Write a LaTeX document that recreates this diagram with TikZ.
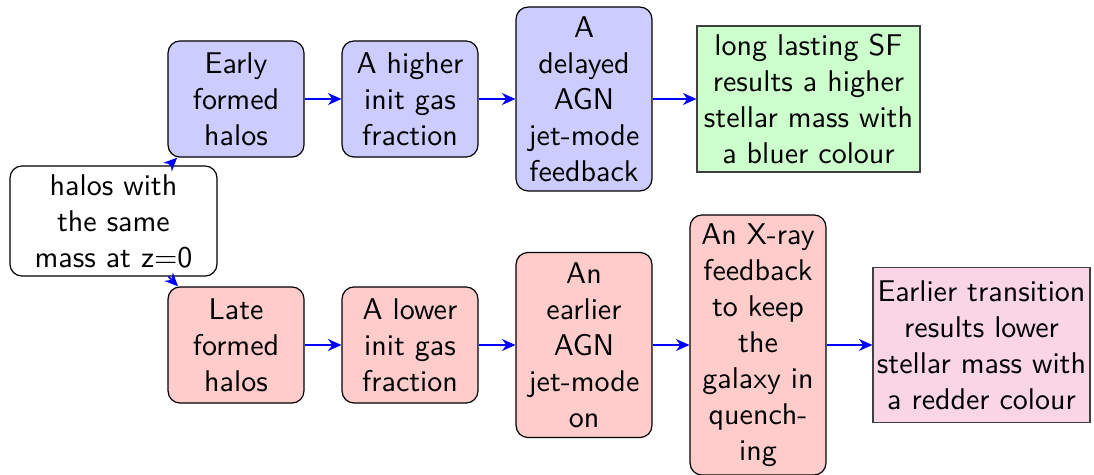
\documentclass[tikz,border=0pt]{standalone}
\usetikzlibrary{arrows.meta}
\definecolor{pinkfill}{RGB}{249,213,229}
\begin{document}
\begin{tikzpicture}[x=1pt,y=1pt,
  font=\sffamily,
  basebox/.style={align=center, inner sep=1pt, anchor=center},
  roundbox/.style={basebox, draw=black, rounded corners=4pt, minimum width=45.3pt},
  bluebox/.style={roundbox, fill=blue!20},
  redbox/.style={roundbox, fill=red!20},
  endbox/.style={basebox, draw=black!75},
  flow/.style={-{Stealth[length=4.5pt,width=4pt]}, blue, semithick}]
\useasboundingbox (0,0) rectangle (364.67,-158.33);
\node[roundbox, minimum width=69pt, minimum height=36.7pt] (start) at (37.83,-73.67) {halos with\\the same\\mass at z$=$0};
\node[bluebox, minimum height=38.7pt] (early) at (78.67,-33) {Early\\formed\\halos};
\node[bluebox, minimum height=38.7pt] (higher) at (136.67,-33) {A higher\\init gas\\fraction};
\node[bluebox, minimum height=61.3pt] (delayed) at (194.67,-33) {A\\delayed\\AGN\\jet-mode\\feedback};
\node[endbox, fill=green!20, minimum width=74.3pt, minimum height=48.7pt] (green) at (269.5,-33) {long lasting SF\\results a higher\\stellar mass with\\a bluer colour};
\node[redbox, minimum height=38.7pt] (late) at (78.67,-115) {Late\\formed\\halos};
\node[redbox, minimum height=38.7pt] (lower) at (136.67,-115) {A lower\\init gas\\fraction};
\node[redbox, minimum height=61.7pt] (earlier) at (194.67,-115) {An\\earlier\\AGN\\jet-mode\\on};
\node[redbox, minimum height=86.7pt] (xray) at (252.67,-115) {An X-ray\\feedback\\to keep\\the\\galaxy in\\quench-\\ing};
\node[endbox, fill=pinkfill, minimum width=72.3pt, minimum height=51.7pt] (pink) at (327.17,-115) {Earlier transition\\results lower\\stellar mass with\\a redder colour};
\draw[flow] (start) -- (early);
\draw[flow] (start) -- (late);
\draw[flow] (early) -- (higher);
\draw[flow] (higher) -- (delayed);
\draw[flow] (delayed) -- (green);
\draw[flow] (late) -- (lower);
\draw[flow] (lower) -- (earlier);
\draw[flow] (earlier) -- (xray);
\draw[flow] (xray) -- (pink);
\end{tikzpicture}
\end{document}
